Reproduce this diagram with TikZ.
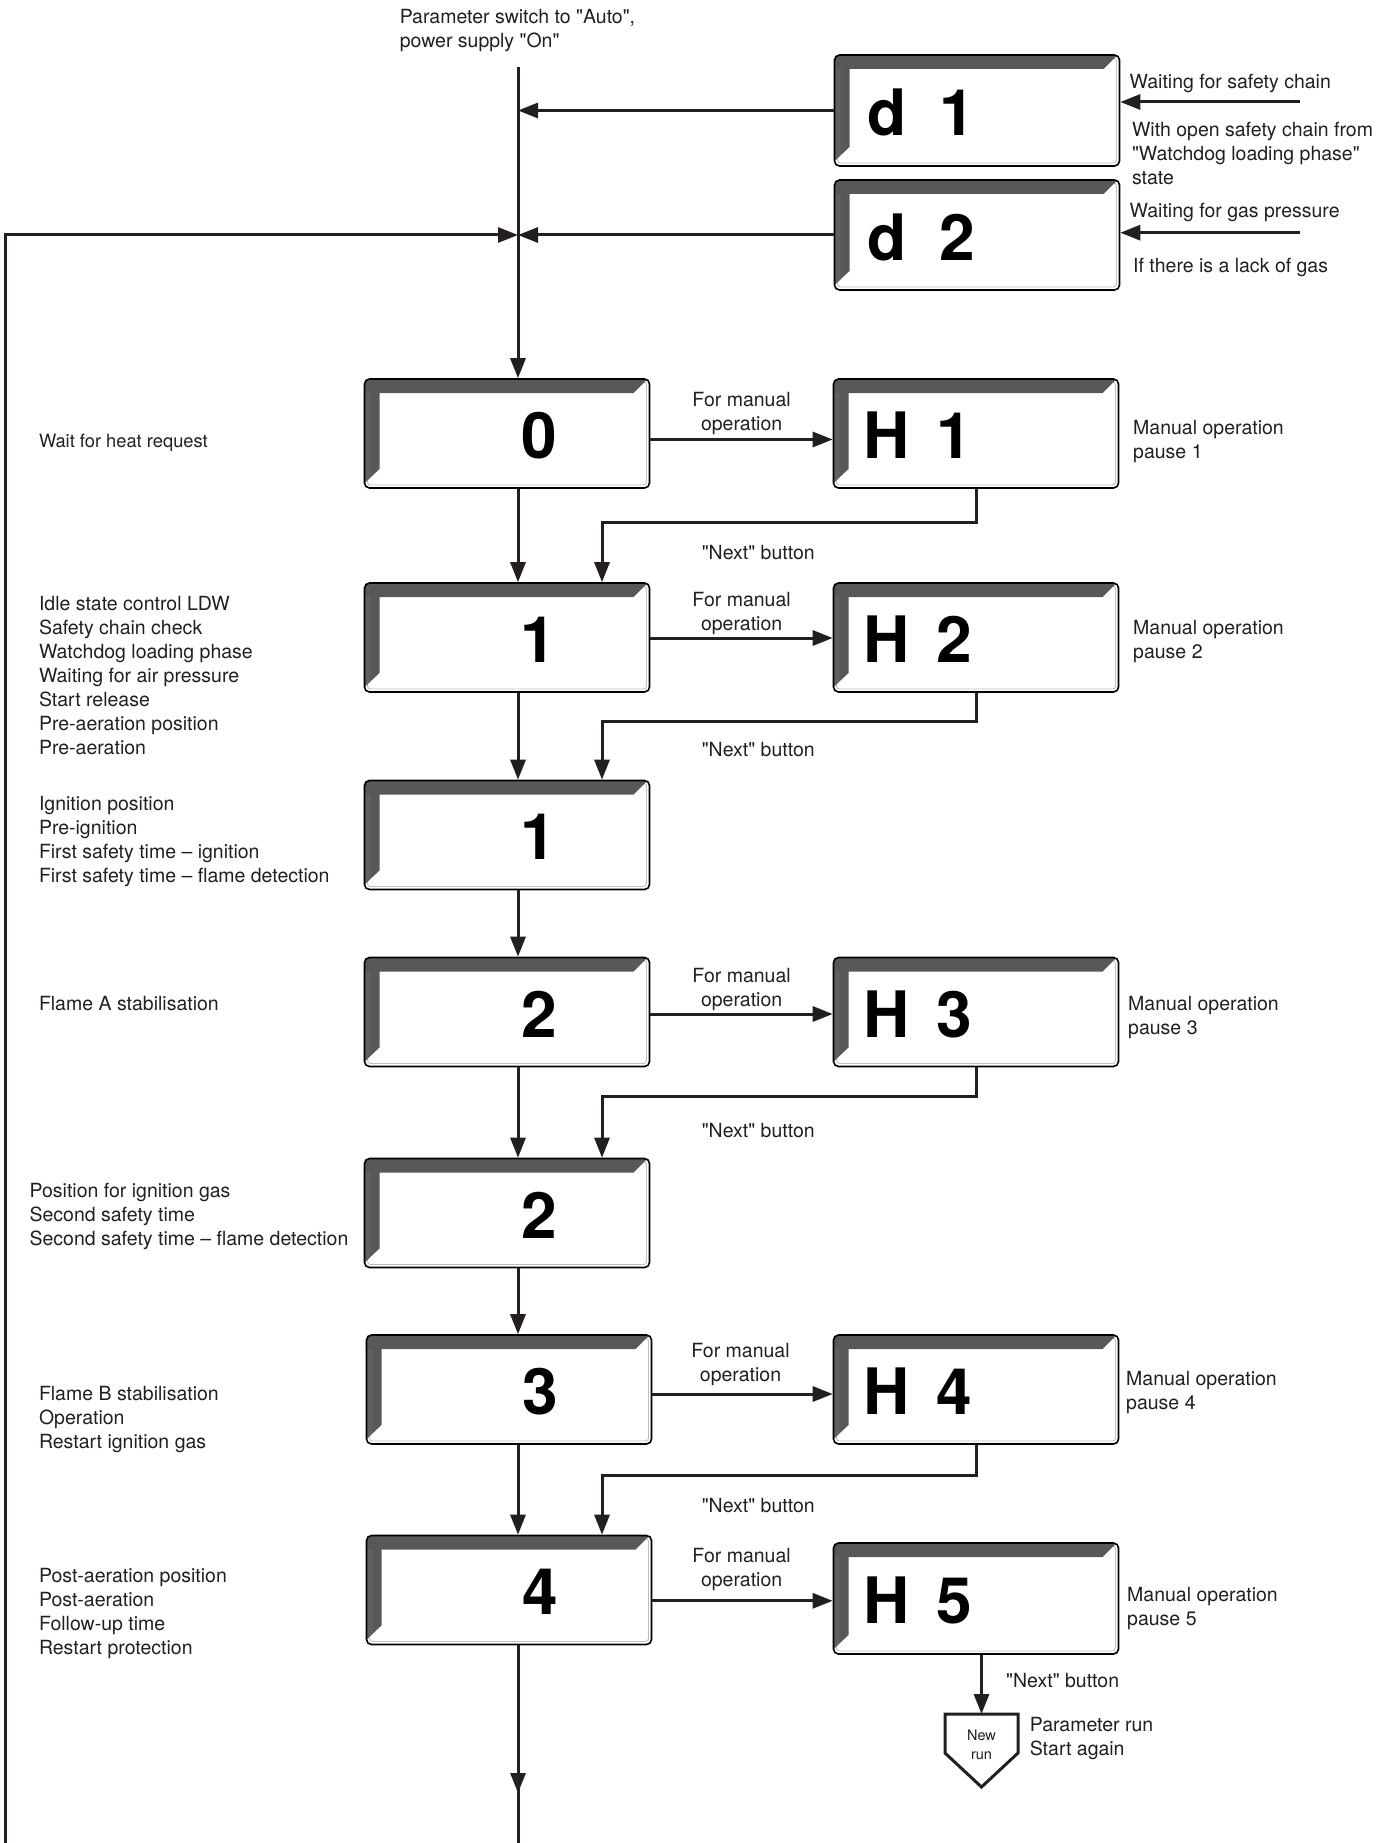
\documentclass[tikz,border=0pt]{standalone}
\usepackage{fontspec}
\setmainfont{TeX Gyre Heros}[Ligatures=TeXOff]
\usetikzlibrary{arrows.meta,calc}
\definecolor{lc}{HTML}{231F20}
\definecolor{bev}{HTML}{585858}
\tikzset{
  conn/.style={draw=lc, line width=3pt, line join=miter, -{Triangle[length=20pt,width=15pt]}},
  plain/.style={draw=lc, line width=3pt},
  txt/.style={font=\fontsize{19.5}{24}\selectfont, text=lc, inner sep=0pt, align=left, anchor=west, yshift=-2.5pt},
  ctxt/.style={font=\fontsize{19.5}{24}\selectfont, text=lc, inner sep=0pt, align=center, anchor=center, yshift=-2.5pt},
  big/.style={font=\bfseries\fontsize{64}{64}\selectfont, text=black, inner sep=0pt},
  sbox/.style={rectangle, draw=black, line width=1.6pt, rounded corners=5pt, fill=white,
    inner sep=0pt, minimum width=285pt, minimum height=109pt,
    path picture={
      \path (path picture bounding box.north west) coordinate (ppA)
            (path picture bounding box.south east) coordinate (ppB);
      \draw[gray!50, line width=0.9pt, rounded corners=3pt] let \p1=(ppA), \p2=(ppB) in
        (\x1+3pt,\y1-3pt) rectangle (\x2-3pt,\y2+3pt);
      \fill[bev, sharp corners] let \p1=(ppA), \p2=(ppB) in
        (\x1,\y1) -- (\x2-2pt,\y1) -- (\x2-16pt,\y1-14pt) -- (\x1+15pt,\y1-14pt)
        -- (\x1+15pt,\y2+19pt) -- (\x1,\y2+5pt) -- cycle;
      \fill[gray!75!black, sharp corners] let \p1=(ppA), \p2=(ppB) in
        (\x1,\y1-14pt) -- (\x1+6pt,\y1-14pt) -- (\x1+6pt,\y2+11pt) -- (\x1,\y2+5pt) -- cycle;
    }},
}
\begin{document}
\begin{tikzpicture}[x=1pt,y=-1pt]
\fill[white] (0,0) rectangle (1388,1843);
\useasboundingbox (0,0) rectangle (1388,1843);

% boxes
\node[sbox, minimum height=111pt] (d1) at (977,110.5) {};
\node[sbox, minimum height=110pt] (d2) at (977,235) {};
\node[sbox] (s0) at (507,433.5) {};
\node[sbox] (h1) at (976,433.5) {};
\node[sbox] (s1) at (507,637.5) {};
\node[sbox] (h2) at (976,637.5) {};
\node[sbox] (s1b) at (507,835) {};
\node[sbox] (s2) at (507,1012) {};
\node[sbox] (h3) at (976,1012) {};
\node[sbox] (s2b) at (507,1213) {};
\node[sbox] (s3) at (509,1389.5) {};
\node[sbox] (h4) at (976,1389.5) {};
\node[sbox] (s4) at (509,1590) {};
\node[sbox, minimum height=111pt] (h5) at (976,1598.5) {};

% box labels
\node[big, anchor=west] (d1t) at ($(d1.west)+(34,2)$) {d\hspace{32pt}1};
\node[big, anchor=west] (d2t) at ($(d2.west)+(34,2)$) {d\hspace{32pt}2};
\node[big] (s0t) at ($(s0.center)+(32,2)$) {0};
\node[big] (s1t) at ($(s1.center)+(31,2)$) {1};
\node[big] (s1bt) at ($(s1b.center)+(31,2)$) {1};
\node[big] (s2t) at ($(s2.center)+(32,2)$) {2};
\node[big] (s2bt) at ($(s2b.center)+(32,2)$) {2};
\node[big] (s3t) at ($(s3.center)+(31,2)$) {3};
\node[big] (s4t) at ($(s4.center)+(31,2)$) {4};
\node[big, anchor=west] (h1t) at ($(h1.west)+(30.5,2)$) {H\hspace{27pt}1};
\node[big, anchor=west] (h2t) at ($(h2.west)+(30.5,2)$) {H\hspace{27pt}2};
\node[big, anchor=west] (h3t) at ($(h3.west)+(30.5,2)$) {H\hspace{27pt}3};
\node[big, anchor=west] (h4t) at ($(h4.west)+(30.5,2)$) {H\hspace{27pt}4};
\node[big, anchor=west] (h5t) at ($(h5.west)+(30.5,2)$) {H\hspace{27pt}5};

% coordinates
\coordinate (top) at (518,67);
\coordinate (bot) at (518,1843);
\coordinate (fb) at (5,1843);
\coordinate (in1) at (1300,102);
\coordinate (in2) at (1300,232.7);
\coordinate (nx1) at (602,522);
\coordinate (nx2) at (602,721.6);
\coordinate (nx3) at (602,1096.6);
\coordinate (nx4) at (602,1475);
\coordinate (nrtop) at (981.5,1714);
\coordinate (mtip) at (518,1793);

% main vertical flow
\draw[conn] (top) -- (s0.north -| top);
\draw[conn] (s0.south -| top) -- (s1.north -| top);
\draw[conn] (s1.south -| top) -- (s1b.north -| top);
\draw[conn] (s1b.south -| top) -- (s2.north -| top);
\draw[conn] (s2.south -| top) -- (s2b.north -| top);
\draw[conn] (s2b.south -| top) -- (s3.north -| top);
\draw[conn] (s3.south -| top) -- (s4.north -| top);
\draw[conn] (s4.south -| top) -- (mtip);
\draw[plain] ([yshift=8pt]mtip) -- (bot);

% d1 / d2
\draw[conn] (d1.west) -- (d1.west -| top);
\draw[conn] (d2.west) -- (d2.west -| top);
\draw[conn] (fb) |- (d2.west -| top);
\draw[conn] (in1) -- (in1 -| d1.east);
\draw[conn] (in2) -- (in2 -| d2.east);

% manual operation arrows
\draw[conn] ([yshift=-6pt]s0.east) -- ([yshift=-6pt]h1.west);
\draw[conn] ([yshift=-0.5pt]s1.east) -- ([yshift=-0.5pt]h2.west);
\draw[conn] ([yshift=-2pt]s2.east) -- ([yshift=-2pt]h3.west);
\draw[conn] ([yshift=-4.5pt]s3.east) -- ([yshift=-4.5pt]h4.west);
\draw[conn] ([yshift=-10.8pt]s4.east) -- ([yshift=-2.3pt]h5.west);

% next button returns
\draw[conn] (h1.south) |- (nx1) -- (nx1 |- s1.north);
\draw[conn] (h2.south) |- (nx2) -- (nx2 |- s1b.north);
\draw[conn] (h3.south) |- (nx3) -- (nx3 |- s2b.north);
\draw[conn] (h4.south) |- (nx4) -- (nx4 |- s4.north);
\draw[conn] (h5.south -| nrtop) -- (nrtop);

% new run pentagon
\draw[lc, line width=3pt, line join=miter] (945,1714) -- (1018,1714) -- (1018,1753) -- (981.5,1787) -- (945,1753) -- cycle;
\node[font=\fontsize{14.5}{19.5}\selectfont, text=lc, align=center, inner sep=0pt] (nr) at (981.5,1745) {New\\run};

% texts
\node[txt] (ptop) at (399.6,28.2) {Parameter switch to "Auto",\\power supply "On"};
\node[txt] (w1) at (1129.5,81) {Waiting for safety chain};
\node[txt] (w2) at (1131.8,151) {With open safety chain from\\"Watchdog loading phase"\\state};
\node[txt] (w3) at (1129.5,210.4) {Waiting for gas pressure};
\node[txt] (w4) at (1133,264.5) {If there is a lack of gas};

\node[txt, font=\fontsize{18.3}{24}\selectfont] (tw0) at (38.8,440.7) {Wait for heat request};
\node[txt] (tw1) at (38.8,672.9) {Idle state control LDW\\Safety chain check\\Watchdog loading phase\\Waiting for air pressure\\Start release\\Pre-aeration position\\Pre-aeration};
\node[txt] (tw1b) at (38.8,838.6) {Ignition position\\Pre-ignition\\First safety time – ignition\\First safety time – flame detection};
\node[txt] (tw2) at (38.8,1001.4) {Flame A stabilisation};
\node[txt] (tw2b) at (29.4,1213.5) {Position for ignition gas\\Second safety time\\Second safety time – flame detection};
\node[txt] (tw3) at (38.8,1416.8) {Flame B stabilisation\\Operation\\Restart ignition gas};
\node[txt] (tw4) at (38.8,1610.8) {Post-aeration position\\Post-aeration\\Follow-up time\\Restart protection};

\node[txt] (th1) at (1133,439) {Manual operation\\pause 1};
\node[txt] (th2) at (1133,639.4) {Manual operation\\pause 2};
\node[txt] (th3) at (1128,1015) {Manual operation\\pause 3};
\node[txt] (th4) at (1126,1390) {Manual operation\\pause 4};
\node[txt] (th5) at (1127,1605.5) {Manual operation\\pause 5};

\node[ctxt] (fm0) at (741.6,411.4) {For manual\\operation};
\node[ctxt] (fm1) at (741.6,610.6) {For manual\\operation};
\node[ctxt] (fm2) at (741.6,987.3) {For manual\\operation};
\node[ctxt] (fm3) at (740.5,1362.2) {For manual\\operation};
\node[ctxt] (fm4) at (741.6,1566.7) {For manual\\operation};

\node[txt] (nb1) at (701.6,550) {"Next" button};
\node[txt] (nb2) at (701.6,747.5) {"Next" button};
\node[txt] (nb3) at (701.6,1128.3) {"Next" button};
\node[txt] (nb4) at (701.6,1503.2) {"Next" button};
\node[txt] (nb5) at (1006,1678.3) {"Next" button};
\node[txt] (prun) at (1029.6,1736) {Parameter run\\Start again};
\end{tikzpicture}
\end{document}
